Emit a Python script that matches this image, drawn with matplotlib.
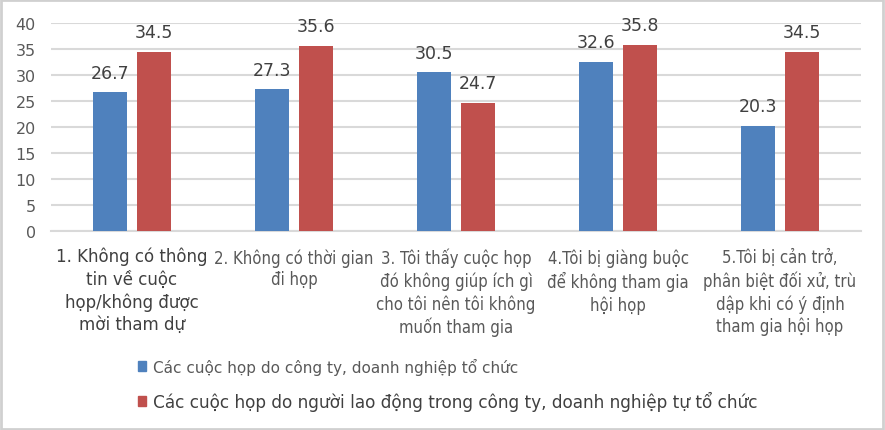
import numpy as np
import matplotlib.pyplot as plt
from matplotlib.patches import Rectangle

# Dữ liệu biểu đồ (%)
nhom = [
    "1. Không có thông\ntin về cuộc\nhọp/không được\nmời tham dự",
    "2. Không có thời gian\nđi họp",
    "3. Tôi thấy cuộc họp\nđó không giúp ích gì\ncho tôi nên tôi không\nmuốn tham gia",
    "4.Tôi bị giàng buộc\nđể không tham gia\nhội họp",
    "5.Tôi bị cản trở,\nphân biệt đối xử, trù\ndập khi có ý định\ntham gia hội họp",
]
cong_ty = [26.7, 27.3, 30.5, 32.6, 20.3]
nguoi_ld = [34.5, 35.6, 24.7, 35.8, 34.5]
ten_chuoi = [
    "Các cuộc họp do công ty, doanh nghiệp tổ chức",
    "Các cuộc họp do người lao động trong công ty, doanh nghiệp tự tổ chức",
]

XANH = "#4F81BD"
DO = "#C0504D"

plt.rcParams["font.family"] = ["DejaVu Sans"]

fig = plt.figure(figsize=(8.85, 4.31), dpi=100)
ax = fig.add_axes([51 / 885, 1 - 232.3 / 431, 810 / 885, 208.3 / 431])

x = np.arange(len(nhom))
w = 0.21
gap = 0.062
b1 = ax.bar(x - (w + gap) / 2, cong_ty, w, color=XANH, zorder=3)
b2 = ax.bar(x + (w + gap) / 2, nguoi_ld, w, color=DO, zorder=3)

for bars, vals in ((b1, cong_ty), (b2, nguoi_ld)):
    for r, v in zip(bars, vals):
        ax.annotate(f"{v:.1f}", (r.get_x() + r.get_width() / 2, v),
                    xytext=(0, 10.5), textcoords="offset points",
                    ha="center", va="baseline", fontsize=12.5, color="#404040")

ax.set_xlim(-0.5, len(nhom) - 0.5)
ax.set_ylim(0, 40)
ax.set_yticks(np.arange(0, 41, 5))
ax.tick_params(axis="y", length=0, pad=11, labelsize=11.5, labelcolor="#595959")
ax.tick_params(axis="x", length=0)
ax.set_xticks(x)
ax.set_xticklabels([])
ax.grid(axis="y", color="#d9d9d9", lw=1.5, zorder=0)
for s in ("top", "right", "left"):
    ax.spines[s].set_visible(False)
ax.spines["bottom"].set_color("#d9d9d9")
ax.spines["bottom"].set_linewidth(1.5)

# Nhãn danh mục dưới trục
for i, t in enumerate(nhom):
    cx = (51 + 162 * (i + 0.5)) / 885
    if i == 0:
        fig.text(cx, 1 - 248 / 431, t, ha="center", va="top", fontsize=12,
                 color="#404040", linespacing=1.3)
    else:
        fig.text(cx, 1 - 249 / 431, t, ha="center", va="top", fontsize=12,
                 fontstretch="condensed", color="#595959", linespacing=1.28)

# Chú thích
leg_y = [367, 402]
leg_fs = [11, 12.2]
leg_col = ["#595959", "#404040"]
for mau, ten, yy, fs, c in zip((XANH, DO), ten_chuoi, leg_y, leg_fs, leg_col):
    fig.patches.append(Rectangle((138 / 885, 1 - (yy + 5) / 431), 8 / 885, 10 / 431,
                                 transform=fig.transFigure, color=mau))
    fig.text(153 / 885, 1 - yy / 431, ten, ha="left", va="center", fontsize=fs,
             color=c)

# Khung viền quanh hình
fig.patches.append(Rectangle((0.001, 0.002), 0.997, 0.995, transform=fig.transFigure,
                             fill=False, edgecolor="#d0d0d0", lw=2))

fig.savefig("out.png", dpi=100)
